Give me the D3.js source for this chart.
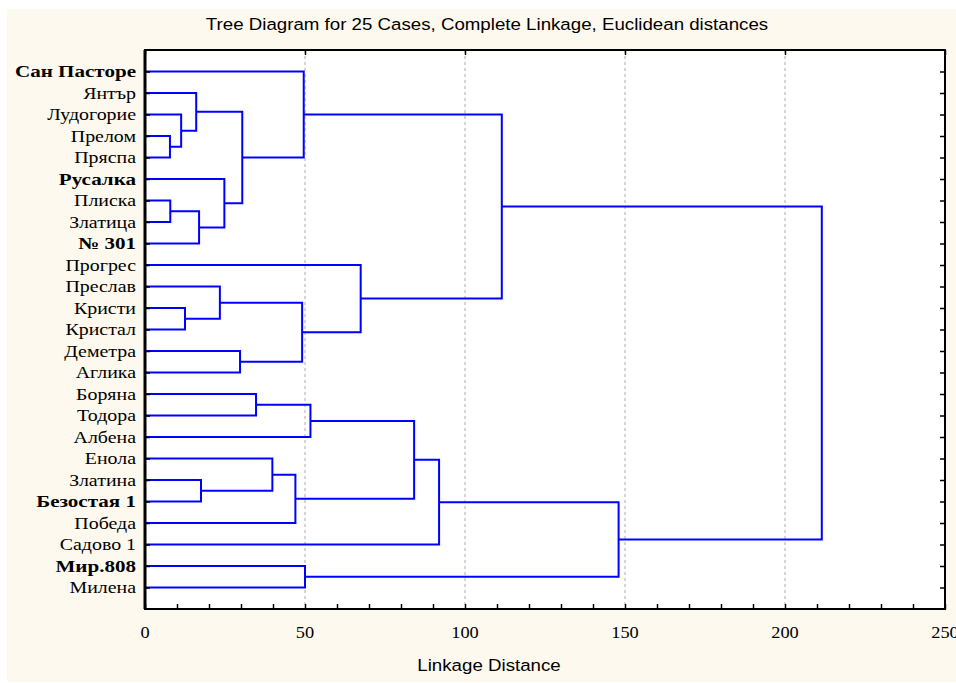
<!DOCTYPE html>
<html>
<head>
<meta charset="utf-8">
<script src="https://cdn.jsdelivr.net/npm/d3@7"></script>
<style>
  body { margin: 0; background: #fff; }
</style>
</head>
<body>
<div class="center"></div>
<script>
// Leaves, top to bottom
const leaves = ["Сан Пасторе", "Янтър", "Лудогорие", "Прелом", "Пряспа", "Русалка", "Плиска",
  "Златица", "№ 301", "Прогрес", "Преслав", "Кристи", "Кристал", "Деметра", "Аглика", "Боряна",
  "Тодора", "Албена", "Енола", "Златина", "Безостая 1", "Победа", "Садово 1", "Мир.808", "Милена"];
const boldLeaves = ["Сан Пасторе", "Русалка", "№ 301", "Безостая 1", "Мир.808"];

// Merges: [child A, child B, linkage distance]; new clusters numbered from 25
const mergeA = [3, 6, 2, 11, 1, 26, 19, 10, 5, 13, 29, 15, 18, 21, 32, 0, 23, 36, 9, 42, 44, 40, 45, 46];
const mergeB = [4, 7, 25, 12, 27, 8, 20, 28, 30, 14, 33, 16, 31, 37, 34, 35, 24, 17, 39, 38, 22, 43, 41, 47];
const mergeH = [7.8, 7.9, 11.3, 12.5, 16.0, 16.9, 17.5, 23.4, 24.8, 29.7, 30.4, 34.7, 39.8, 47.0,
  49.1, 49.6, 50.0, 51.7, 67.4, 84.1, 91.9, 111.5, 148.0, 211.5];

const xTicks = [0, 50, 100, 150, 200, 250];

const W = 956, H = 683;
const plot = {left: 145, right: 945, top: 50, bottom: 609};
const serif = "Liberation Serif, Times New Roman, serif";
const sans = "Liberation Sans, Arial, sans-serif";

const svg = d3.select(".center").append("svg")
  .attr("width", W).attr("height", H);

// backgrounds
svg.append("rect").attr("x", 7).attr("y", 9).attr("width", W - 7).attr("height", H - 10)
  .attr("fill", "#fdf9ef");
svg.append("rect").attr("x", plot.left).attr("y", plot.top)
  .attr("width", plot.right - plot.left).attr("height", plot.bottom - plot.top)
  .attr("fill", "#fff");

const x = d3.scaleLinear().domain([0, 250]).range([plot.left, plot.right]);
const y = d3.scaleLinear().domain([0, 26]).range([plot.top, plot.bottom]);

// grid
svg.append("g").selectAll("line")
  .data(xTicks.filter(d => d > 0 && d < 250))
  .enter().append("line")
  .attr("x1", d => x(d)).attr("x2", d => x(d))
  .attr("y1", plot.top).attr("y2", plot.bottom)
  .attr("stroke", "#aaa").attr("stroke-dasharray", "3,3");

// node positions
const pos = leaves.map((d, i) => ({x: 0, y: i + 1}));
const links = [];
mergeH.forEach((h, i) => {
  const a = pos[mergeA[i]], b = pos[mergeB[i]];
  links.push({a, b, h});
  pos.push({x: h, y: (a.y + b.y) / 2});
});

svg.append("g").selectAll("path")
  .data(links)
  .enter().append("path")
  .attr("d", d => `M${x(d.a.x)},${y(d.a.y)}H${x(d.h)}V${y(d.b.y)}H${x(d.b.x)}`)
  .attr("fill", "none")
  .attr("stroke", "#0000ff")
  .attr("stroke-width", 2);

// axes with inward ticks
const rows = d3.range(1, 26);
svg.append("g").attr("transform", `translate(0,${plot.bottom})`)
  .call(d3.axisBottom(x).tickValues(d3.range(0, 251, 10)).tickSize(-5).tickFormat(""))
  .call(g => g.select(".domain").remove());
svg.append("g").attr("transform", `translate(0,${plot.top})`)
  .call(d3.axisTop(x).tickValues(xTicks).tickSize(-5).tickFormat(""))
  .call(g => g.select(".domain").remove());
svg.append("g").attr("transform", `translate(${plot.right},0)`)
  .call(d3.axisRight(y).tickValues(rows).tickSize(-5).tickFormat(""))
  .call(g => g.select(".domain").remove());
svg.append("g").attr("transform", `translate(${plot.left},0)`)
  .call(d3.axisLeft(y).tickValues(rows).tickSize(-5).tickFormat(""))
  .call(g => g.select(".domain").remove());
svg.selectAll(".tick line").attr("stroke", "#000").attr("stroke-width", 1.5);

// frame
svg.append("rect").attr("x", plot.left).attr("y", plot.top)
  .attr("width", plot.right - plot.left).attr("height", plot.bottom - plot.top)
  .attr("fill", "none").attr("stroke", "#000").attr("stroke-width", 2);
svg.append("line").attr("x1", plot.left).attr("x2", plot.left)
  .attr("y1", plot.top).attr("y2", plot.bottom)
  .attr("stroke", "#000").attr("stroke-width", 3);

// leaf labels (the original is rendered a bit wider than Liberation Serif)
svg.append("g").selectAll("text")
  .data(leaves)
  .enter().append("text")
  .attr("transform", (d, i) => `translate(${plot.left - 9},${y(i + 1)}) scale(${boldLeaves.includes(d) ? 1.24 : 1.17},1)`)
  .attr("dy", "0.34em")
  .attr("text-anchor", "end")
  .style("font-family", serif)
  .style("font-size", "17px")
  .style("font-weight", d => boldLeaves.includes(d) ? "700" : "400")
  .text(d => d);

// x tick labels
svg.append("g").selectAll("text")
  .data(xTicks)
  .enter().append("text")
  .attr("transform", d => `translate(${x(d)},638) scale(1.08,1)`)
  .attr("text-anchor", "middle")
  .style("font-family", serif)
  .style("font-size", "17px")
  .text(d => d);

// title
svg.append("text")
  .text("Tree Diagram for 25 Cases, Complete Linkage, Euclidean distances")
  .attr("transform", "translate(487,30) scale(1.1,1)")
  .attr("text-anchor", "middle")
  .style("font-family", sans)
  .style("font-size", "17px");

// x axis label
svg.append("text")
  .text("Linkage Distance")
  .attr("transform", "translate(489,671) scale(1.1,1)")
  .attr("text-anchor", "middle")
  .style("font-family", sans)
  .style("font-size", "17px");
</script>
</body>
</html>
